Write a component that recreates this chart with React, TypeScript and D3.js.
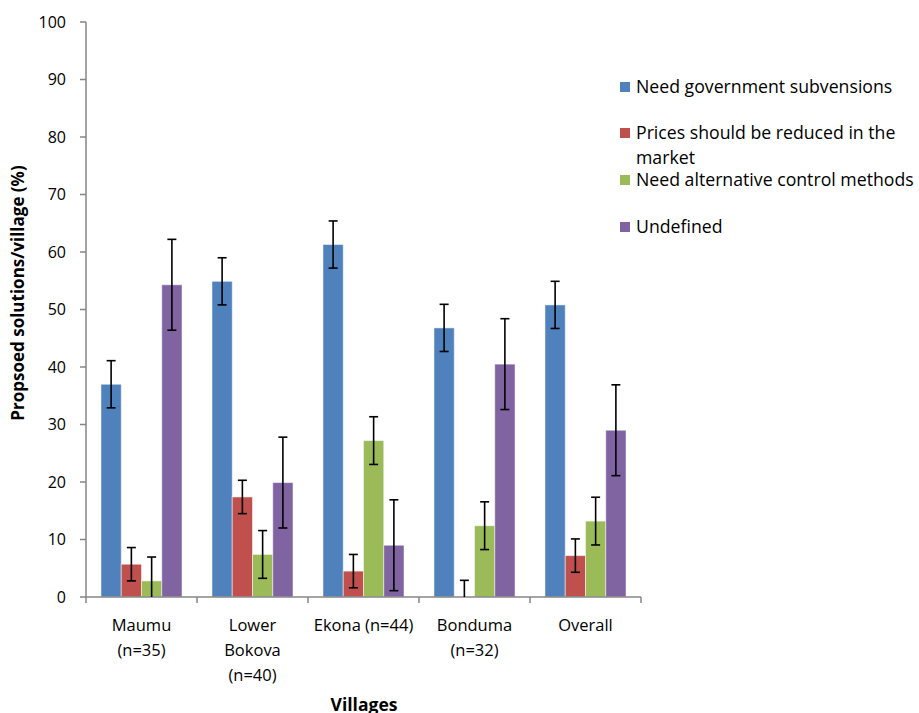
import React from "react";
import * as d3 from "d3";

const categories: string[][] = [
  ["Maumu", "(n=35)"],
  ["Lower", "Bokova", "(n=40)"],
  ["Ekona (n=44)"],
  ["Bonduma", "(n=32)"],
  ["Overall"],
];
const seriesNames: string[][] = [
  ["Need government subvensions"],
  ["Prices should be reduced in the", "market"],
  ["Need alternative control methods"],
  ["Undefined"],
];
const subvensions = [37.0, 54.9, 61.3, 46.8, 50.8];
const prices = [5.7, 17.4, 4.5, 0, 7.2];
const alternative = [2.8, 7.4, 27.2, 12.4, 13.2];
const undefinedVals = [54.3, 19.9, 9.0, 40.5, 29.0];
const errors = [4.1, 2.9, 4.15, 7.9];
const yTicks = [0, 10, 20, 30, 40, 50, 60, 70, 80, 90, 100];
const colors = ["#4F81BD", "#C0504D", "#9BBB59", "#8064A2"];
const yTitle = "Propsoed solutions/village (%)";
const xTitle = "Villages";

const series = [subvensions, prices, alternative, undefinedVals];

export default function App() {
  const W = 919, H = 713;
  const left = 86, right = 641, top = 22, bottom = 597;
  const font = "'Open Sans', sans-serif";
  const y = d3.scaleLinear().domain([0, 100]).range([bottom, top]);
  const x0 = d3.scaleBand<number>().domain(categories.map((_, i) => i)).range([left, right]).paddingInner(0.27).paddingOuter(0.135);
  const x1 = d3.scaleBand<number>().domain(series.map((_, i) => i)).range([0, x0.bandwidth()]);
  const xEdges = d3.scaleLinear().domain([0, categories.length]).range([left, right]);
  const axisColor = "#868686";
  const legendY = [87, 133, 180, 227];

  return (
    <svg width={W} height={H} style={{ position: "absolute", left: 0, top: 0, background: "#fff" }} fontFamily={font}>
      <rect width={W} height={H} fill="#fff" />
      {/* bars */}
      {series.map((vals, si) =>
        vals.map((v, ci) => {
          const bx = (x0(ci) as number) + (x1(si) as number);
          return (
            <rect key={`b${si}-${ci}`} x={bx} y={y(v)} width={x1.bandwidth()} height={y(0) - y(v)}
              fill={colors[si]} stroke="#fff" strokeOpacity={0.5} strokeWidth={1} />
          );
        })
      )}
      {/* axes */}
      <line x1={left} x2={left} y1={top} y2={bottom} stroke={axisColor} strokeWidth={1.5} />
      <line x1={left} x2={right} y1={bottom} y2={bottom} stroke={axisColor} strokeWidth={1.5} />
      {yTicks.map((t) => (
        <g key={`yt${t}`}>
          <line x1={left - 6} x2={left} y1={y(t)} y2={y(t)} stroke={axisColor} strokeWidth={1.5} />
          <text x={left - 20} y={y(t)} dy="0.36em" textAnchor="end" fontSize={16} fill="#000">{t}</text>
        </g>
      ))}
      {d3.range(categories.length + 1).map((i) => (
        <line key={`xt${i}`} x1={xEdges(i)} x2={xEdges(i)} y1={bottom} y2={bottom + 6} stroke={axisColor} strokeWidth={1.5} />
      ))}
      {/* error bars */}
      {series.map((vals, si) =>
        vals.map((v, ci) => {
          const cx = (x0(ci) as number) + (x1(si) as number) + x1.bandwidth() / 2;
          const e = errors[si];
          const lo = Math.max(0, v - e);
          const hi = v + e;
          return (
            <g key={`e${si}-${ci}`} stroke="#000" strokeWidth={1.6}>
              <line x1={cx} x2={cx} y1={y(lo)} y2={y(hi)} />
              <line x1={cx - 4.5} x2={cx + 4.5} y1={y(hi)} y2={y(hi)} />
              {v - e > 0 && <line x1={cx - 4.5} x2={cx + 4.5} y1={y(lo)} y2={y(lo)} />}
            </g>
          );
        })
      )}
      {/* x labels */}
      {categories.map((lines, ci) => (
        <text key={`xl${ci}`} x={(x0(ci) as number) + x0.bandwidth() / 2} y={631} textAnchor="middle" fontSize={16.5} fill="#000">
          {lines.map((l, li) => (
            <tspan key={li} x={(x0(ci) as number) + x0.bandwidth() / 2} dy={li === 0 ? 0 : 25}>{l}</tspan>
          ))}
        </text>
      ))}
      <text x={364} y={711} textAnchor="middle" fontSize={17.5} fontWeight="bold" fill="#000">{xTitle}</text>
      <text transform={`translate(24,293) rotate(-90)`} textAnchor="middle" fontSize={17} fontWeight="bold" fill="#000">{yTitle}</text>
      {/* legend */}
      {seriesNames.map((lines, si) => (
        <g key={`lg${si}`}>
          <rect x={620} y={legendY[si] - 5} width={10} height={10} fill={colors[si]} />
          <text x={636} y={legendY[si]} fontSize={17.7} fill="#000">
            {lines.map((l, li) => (
              <tspan key={li} x={636} dy={li === 0 ? "0.36em" : 25}>{l}</tspan>
            ))}
          </text>
        </g>
      ))}
    </svg>
  );
}
